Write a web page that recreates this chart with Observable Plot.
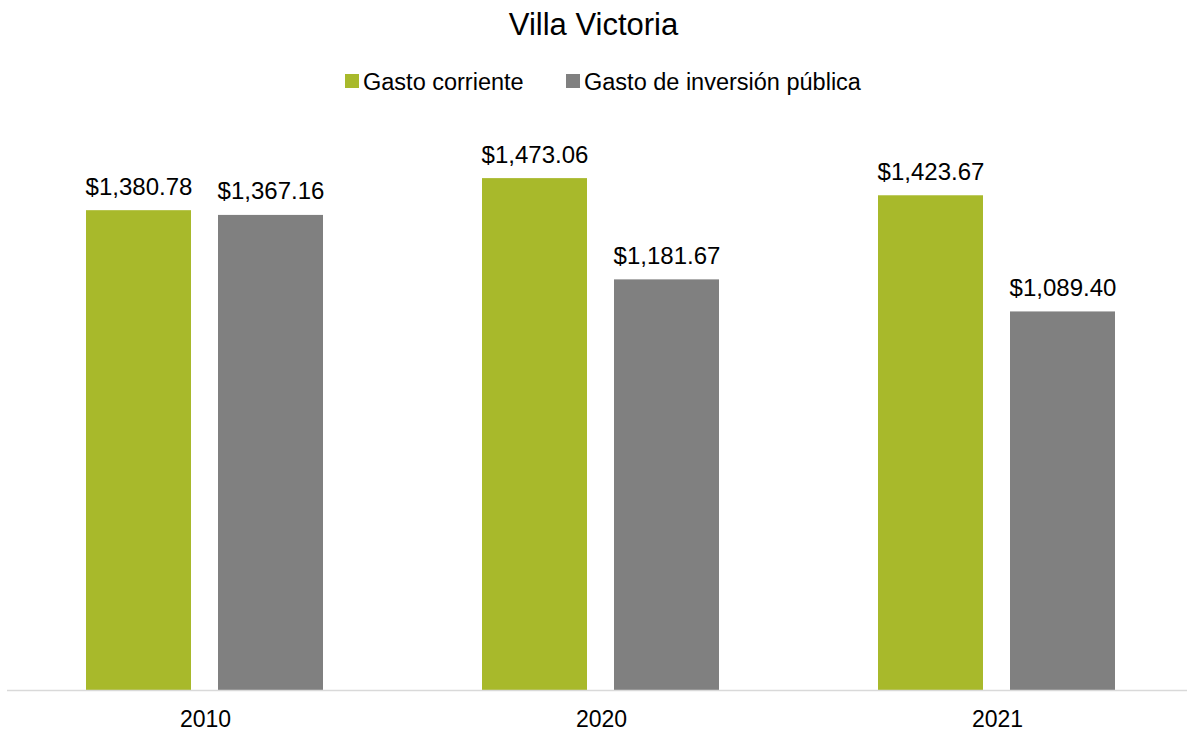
<!DOCTYPE html>
<html>
<head>
<meta charset="utf-8">
<script src="https://cdn.jsdelivr.net/npm/d3@7"></script>
<script src="https://cdn.jsdelivr.net/npm/@observablehq/plot@0.6"></script>
<style>
  html, body { margin: 0; padding: 0; background: #fff; overflow: hidden; }
  body { font-family: "Liberation Sans", Arial, sans-serif; width: 1187px; height: 731px; }
  #header { height: 100px; position: relative; }
  #title { position: absolute; top: 9px; left: 0; width: 1187px; text-align: center; font-size: 31px; line-height: 31px; color: #000; }
  .sw { position: absolute; top: 74px; width: 14px; height: 14px; }
  .lt { position: absolute; top: 69px; font-size: 23.5px; line-height: 26px; color: #000; white-space: nowrap; }
  svg { display: block; }
</style>
</head>
<body>
<div id="header">
  <div id="title">Villa Victoria</div>
</div>
<div id="chart"></div>
<script>
const years = ["2010", "2020", "2021"];
const series = ["Gasto corriente", "Gasto de inversión pública"];
const gastoCorriente = [1380.78, 1473.06, 1423.67];
const gastoInversion = [1367.16, 1181.67, 1089.40];
const colors = ["#A8B92B", "#808080"];

const data = [];
years.forEach((y, i) => {
  data.push({year: y, serie: series[0], value: gastoCorriente[i]});
  data.push({year: y, serie: series[1], value: gastoInversion[i]});
});

const fmt = v => "$" + d3.format(",.2f")(v);

const header = document.getElementById("header");
const legendX = [345, 566];
series.forEach((s, i) => {
  const sw = document.createElement("span");
  sw.className = "sw";
  sw.style.left = legendX[i] + "px";
  sw.style.background = colors[i];
  header.appendChild(sw);
  const t = document.createElement("span");
  t.className = "lt";
  t.style.left = (legendX[i] + 18) + "px";
  t.textContent = s;
  header.appendChild(t);
});

const chart = Plot.plot({
  width: 1187,
  height: 631,
  marginTop: 34,
  marginBottom: 41,
  marginLeft: 7,
  marginRight: -8,
  style: {fontFamily: "Liberation Sans, Arial, sans-serif", background: "#fff", overflow: "hidden"},
  fx: {domain: years, padding: 0},
  x: {domain: series, axis: null, paddingInner: 0.2045, paddingOuter: 0.602},
  y: {domain: [0, 1600], axis: null},
  color: {domain: series, range: colors},
  marks: [
    Plot.barY(data, {fx: "year", x: "serie", y: "value", fill: "serie"}),
    Plot.ruleY([0], {stroke: "#d9d9d9", strokeWidth: 1.5}),
    Plot.text(data, {fx: "year", x: "serie", y: "value", text: d => fmt(d.value), lineAnchor: "bottom", dy: -16, fontSize: 24, fill: "#000"}),
    Plot.axisFx({anchor: "bottom", tickSize: 0, tickPadding: 20, fontSize: 23, color: "#000", label: null})
  ]
});
document.getElementById("chart").appendChild(chart);
</script>
</body>
</html>
